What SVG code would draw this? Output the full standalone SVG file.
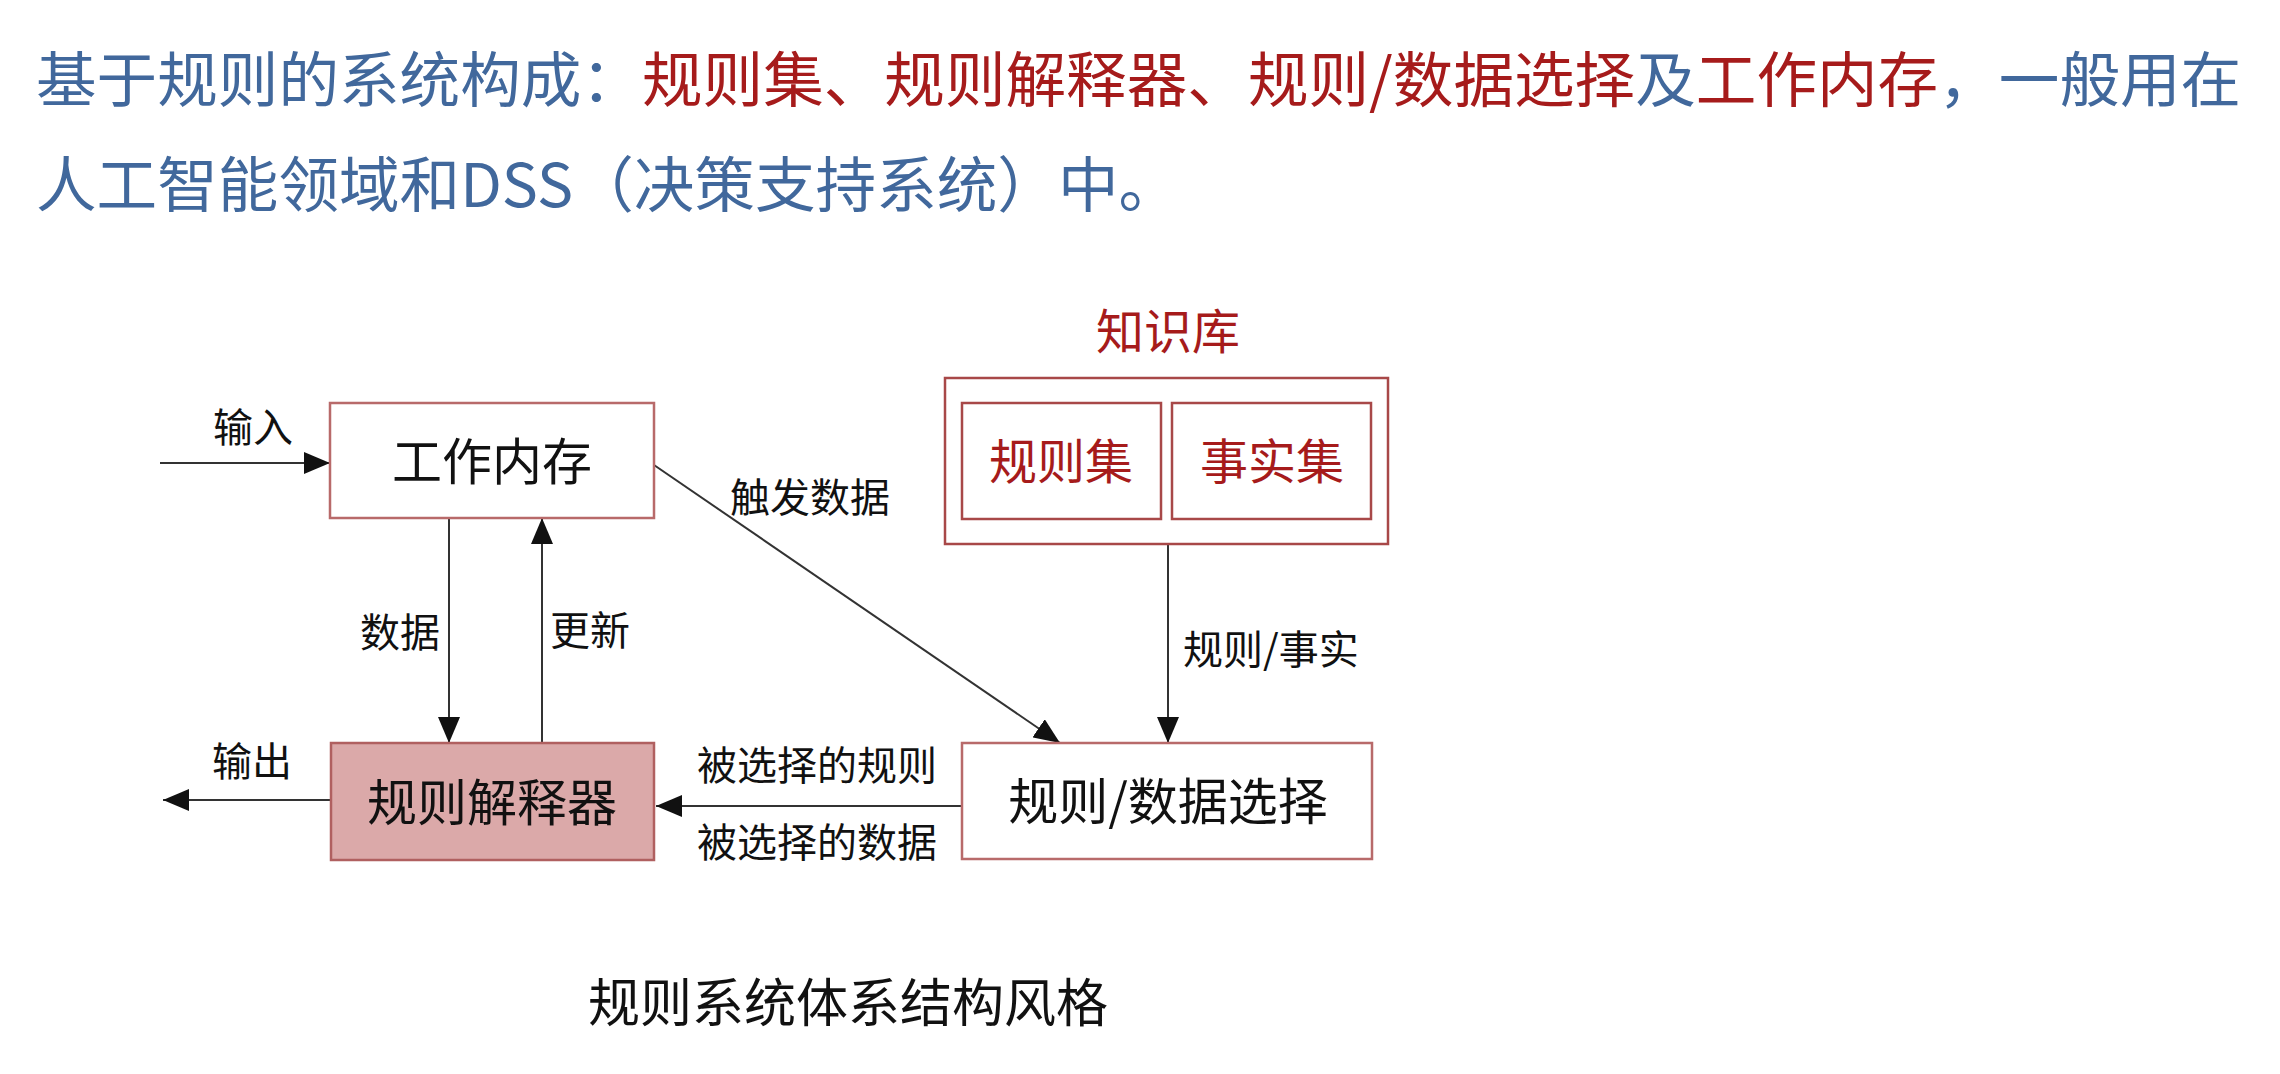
<svg xmlns="http://www.w3.org/2000/svg" width="2280" height="1074" viewBox="0 0 2280 1074">
<defs>
<style>
text{font-family:"Noto Sans CJK SC","Noto Sans",sans-serif;}
.t{font-size:60.6px;fill:#41689c;}
.r{fill:#a61b1b;}
.lbl{font-size:40px;fill:#111;}
.nt{font-size:50px;fill:#111;text-anchor:middle;}
.kt{font-size:48px;fill:#a61b1b;text-anchor:middle;}
.box{fill:#fff;stroke:#b86a6a;stroke-width:2.5;}
.kbox{fill:#fff;stroke:#a84848;stroke-width:2.5;}
.ln{stroke:#333;stroke-width:2;fill:none;}
</style>
<marker id="ahb" markerWidth="26" markerHeight="22" refX="26" refY="11" orient="auto" markerUnits="userSpaceOnUse" viewBox="0 0 26 22">
<path d="M0,0 L26,11 L0,22 Z" fill="#111"/>
</marker>
</defs>
<rect width="2280" height="1074" fill="#fff"/>
<g id="title">
<text class="t" x="36" y="102">基于规则的系统构成：<tspan class="r">规则集、规则解释器、规则/数据选择</tspan>及<tspan class="r">工作内存</tspan>，一般用在</text>
<text class="t" x="36" y="207">人工智能领域和DSS（决策支持系统）中。</text>
</g>
<g id="connectors">
<line class="ln" x1="160" y1="463" x2="330" y2="463" marker-end="url(#ahb)"/>
<text class="lbl" x="253" y="442" text-anchor="middle">输入</text>
<line class="ln" x1="449" y1="518" x2="449" y2="743" marker-end="url(#ahb)"/>
<text class="lbl" x="400" y="647" text-anchor="middle">数据</text>
<line class="ln" x1="542" y1="743" x2="542" y2="518" marker-end="url(#ahb)"/>
<text class="lbl" x="590" y="645" text-anchor="middle">更新</text>
<line class="ln" x1="331" y1="800" x2="163" y2="800" marker-end="url(#ahb)"/>
<text class="lbl" x="252" y="776" text-anchor="middle">输出</text>
<line class="ln" x1="654" y1="465" x2="1060" y2="743" marker-end="url(#ahb)"/>
<text class="lbl" x="730" y="512">触发数据</text>
<line class="ln" x1="1168" y1="544" x2="1168" y2="743" marker-end="url(#ahb)"/>
<text class="lbl" x="1183" y="664">规则/事实</text>
<line class="ln" x1="962" y1="806" x2="656" y2="806" marker-end="url(#ahb)"/>
<text class="lbl" x="817" y="780" text-anchor="middle">被选择的规则</text>
<text class="lbl" x="817" y="857" text-anchor="middle">被选择的数据</text>
</g>
<g id="node-memory">
<rect class="box" x="330" y="403" width="324" height="115"/>
<text class="nt" x="492" y="480">工作内存</text>
</g>
<g id="node-interpreter">
<rect x="331" y="743" width="323" height="117" fill="#dba9a9" stroke="#b06060" stroke-width="2.5"/>
<text class="nt" x="492" y="821">规则解释器</text>
</g>
<g id="node-select">
<rect class="box" x="962" y="743" width="410" height="116"/>
<text class="nt" x="1168" y="820">规则/数据选择</text>
</g>
<g id="node-kb">
<text class="kt" x="1168" y="349">知识库</text>
<rect class="kbox" x="945" y="378" width="443" height="166"/>
<g id="node-rules">
<rect class="kbox" x="962" y="403" width="199" height="116"/>
<text class="kt" x="1061" y="479">规则集</text>
</g>
<g id="node-facts">
<rect class="kbox" x="1172" y="403" width="199" height="116"/>
<text class="kt" x="1272" y="479">事实集</text>
</g>
</g>
<g id="caption">
<text x="848" y="1022" text-anchor="middle" style="font-size:52px;fill:#111;">规则系统体系结构风格</text>
</g>
</svg>
